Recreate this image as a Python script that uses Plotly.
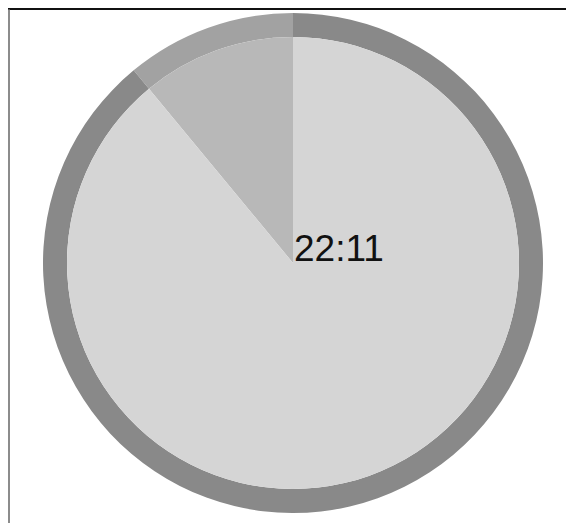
import plotly.graph_objects as go

labels = ["Elapsed", "Remaining"]
values = [11, 89]
center_text = "22:11"

ring_colors = ["#a2a2a2", "#898989"]
pie_colors = ["#b8b8b8", "#d5d5d5"]

fig = go.Figure()
fig.add_trace(go.Pie(
    labels=labels, values=values, sort=False, direction="clockwise",
    rotation=-360 * values[0] / sum(values), hole=0.904, textinfo="none", hoverinfo="skip",
    marker=dict(colors=ring_colors, line=dict(width=0)),
    domain=dict(x=[0, 1], y=[0, 1]), showlegend=False,
))
fig.add_trace(go.Pie(
    labels=labels, values=values, sort=False, direction="clockwise",
    rotation=-360 * values[0] / sum(values), textinfo="none", hoverinfo="skip",
    marker=dict(colors=pie_colors, line=dict(width=0)),
    domain=dict(x=[0.048, 0.952], y=[0.048, 0.952]), showlegend=False,
))

fig.add_annotation(
    text=center_text, x=0.498, y=0.484, xref="paper", yref="paper",
    xanchor="left", yanchor="bottom", showarrow=False,
    font=dict(size=37, color="#111111", family="Liberation Sans, Arial, sans-serif"),
)

# frame lines (top and left)
fig.add_shape(type="line", xref="paper", yref="paper",
              x0=-0.07, x1=1.07, y0=1.008, y1=1.008,
              line=dict(color="#111111", width=2))
fig.add_shape(type="line", xref="paper", yref="paper",
              x0=-0.068, x1=-0.068, y0=1.008, y1=-0.03,
              line=dict(color="#666666", width=1.5))

fig.update_layout(
    width=566, height=515,
    margin=dict(l=35, r=31, t=5, b=10),
    paper_bgcolor="white", plot_bgcolor="white",
)

fig.write_html("out.html")
